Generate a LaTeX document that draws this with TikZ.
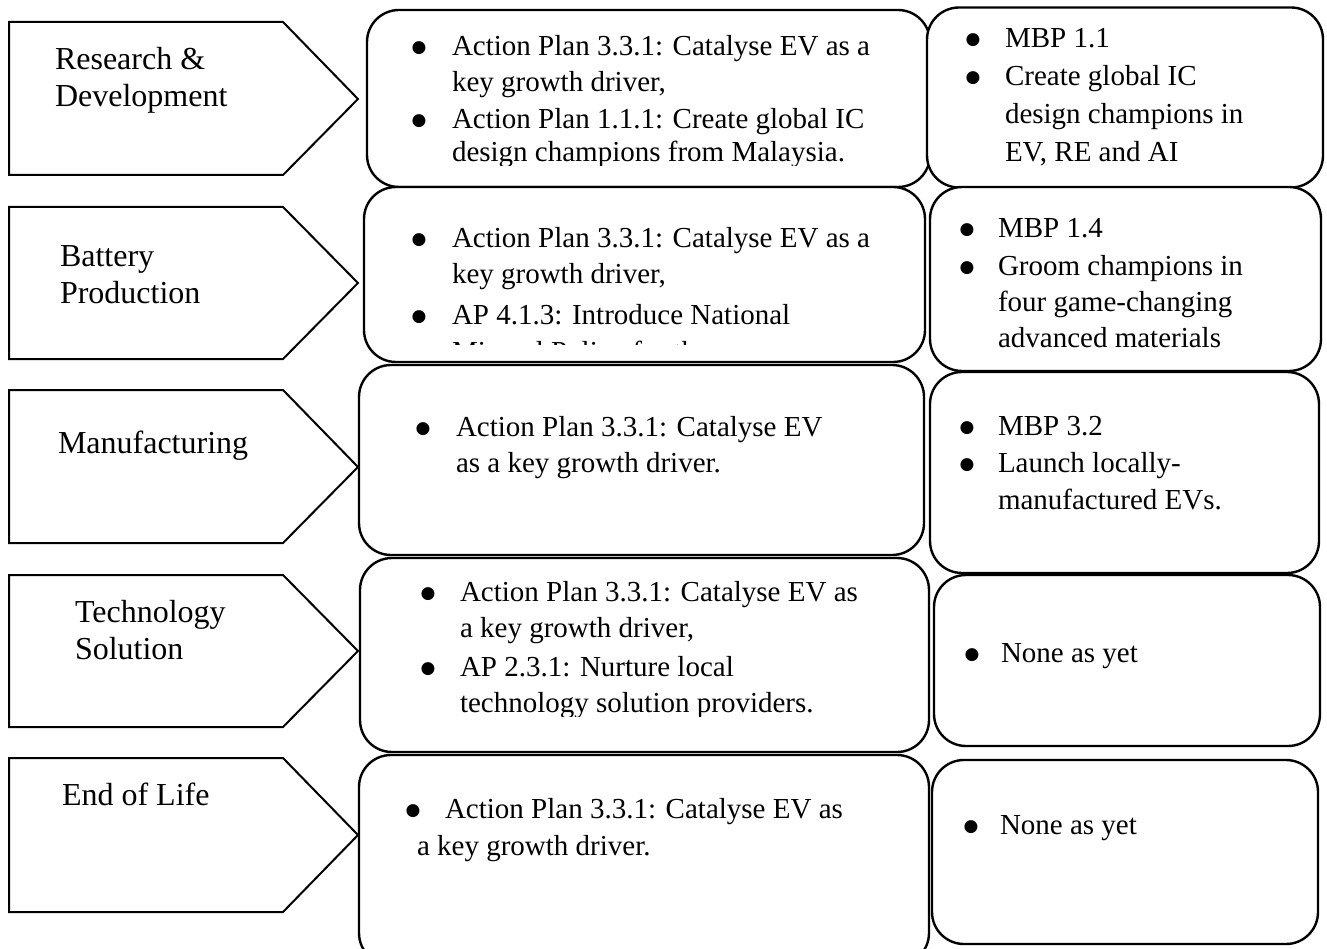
\documentclass[tikz,border=0pt]{standalone}
\usepackage{fontspec}
\setmainfont{Liberation Serif}
\newfontfamily\bulfont{DejaVu Sans}
\begin{document}
\begin{tikzpicture}[x=1pt,y=-1pt,
  arrowshape/.style={draw=black, line width=2pt, line join=miter, fill=white},
  box/.style={draw=black, line width=2.4pt, rounded corners=32pt, fill=white, inner sep=0pt, outer sep=0pt},
  txt/.style={anchor=base west, inner sep=0pt, outer sep=0pt, font=\fontsize{29pt}{35pt}\selectfont},
  lbl/.style={anchor=base west, inner sep=0pt, outer sep=0pt, font=\fontsize{32pt}{38pt}\selectfont},
  bul/.style={anchor=base, inner sep=0pt, outer sep=0pt, yshift=3pt, font=\bulfont\fontsize{17pt}{20pt}\selectfont}]
\useasboundingbox (0,0) rectangle (1327,949);
\fill[white] (0,0) rectangle (1327,949);

% ---------- left arrow shapes ----------
\draw[arrowshape] (9,22) coordinate (a1) -- (283,22) -- (358,99) coordinate (t1) -- (283,175) -- (9,175) -- cycle;
\draw[arrowshape] (9,207) coordinate (a2) -- (283,207) -- (358,283) coordinate (t2) -- (283,359) -- (9,359) -- cycle;
\draw[arrowshape] (9,390) coordinate (a3) -- (283,390) -- (358,467) coordinate (t3) -- (283,543) -- (9,543) -- cycle;
\draw[arrowshape] (9,575) coordinate (a4) -- (283,575) -- (358,651) coordinate (t4) -- (283,727) -- (9,727) -- cycle;
\draw[arrowshape] (9,758) coordinate (a5) -- (283,758) -- (358,835) coordinate (t5) -- (283,912) -- (9,912) -- cycle;

\node[lbl] (l1a) at (55,70) {Research \&};
\node[lbl] (l1b) at (55,107) {Development};
\node[lbl] (l2a) at (60,267) {Battery};
\node[lbl] (l2b) at (60,304) {Production};
\node[lbl] (l3a) at (58,453) {Manufacturing};
\node[lbl] (l4a) at (75,622) {Technology};
\node[lbl] (l4b) at (75,659) {Solution};
\node[lbl] (l5a) at (62,805) {End of Life};

% ---------- middle boxes ----------
\node[box, minimum width=563pt, minimum height=177pt] (m1) at (648.5,98.5) {};
\node[box, minimum width=561pt, minimum height=175pt] (m2) at (644.5,274.5) {};
\node[box, minimum width=565pt, minimum height=190pt] (m3) at (641.5,460) {};
\node[box, minimum width=569pt, minimum height=194pt] (m4) at (644.5,655) {};
\node[box, minimum width=570pt, minimum height=210pt] (m5) at (644,860) {};

% ---------- right boxes ----------
\node[box, minimum width=396pt, minimum height=180pt] (r1) at (1125,97.5) {};
\node[box, minimum width=391pt, minimum height=184pt] (r2) at (1125.5,279) {};
\node[box, minimum width=389pt, minimum height=201pt] (r3) at (1124.5,472.5) {};
\node[box, minimum width=386pt, minimum height=171pt] (r4) at (1127,660.5) {};
\node[box, minimum width=386pt, minimum height=184pt] (r5) at (1125,852) {};

% ---------- middle texts ----------
\begin{scope}
\clip (370,12) rectangle (925,166);
\node[bul] (m1b1) at (419,56) {●};
\node[txt] (m1t1) at (452,56) {Action Plan 3.3.1: Catalyse EV as a};
\node[txt] (m1t2) at (452,92) {key growth driver,};
\node[bul] (m1b2) at (419,129) {●};
\node[txt] (m1t3) at (452,129) {Action Plan 1.1.1: Create global IC};
\node[txt] (m1t4) at (452,162) {design champions from Malaysia.};
\end{scope}

\begin{scope}
\clip (366,190) rectangle (920,344);
\node[bul] (m2b1) at (419,248) {●};
\node[txt] (m2t1) at (452,248) {Action Plan 3.3.1: Catalyse EV as a};
\node[txt] (m2t2) at (452,284) {key growth driver,};
\node[bul] (m2b2) at (419,325) {●};
\node[txt] (m2t3) at (452,325) {AP 4.1.3: Introduce National};
\node[txt] (m2t4) at (452,361) {Mineral Policy for the};
\end{scope}

\node[bul] (m3b1) at (423,436) {●};
\node[txt] (m3t1) at (456,436) {Action Plan 3.3.1: Catalyse EV};
\node[txt] (m3t2) at (456,472) {as a key growth driver.};

\begin{scope}
\clip (362,560) rectangle (926,716);
\node[bul] (m4b1) at (428,601) {●};
\node[txt] (m4t1) at (460,601) {Action Plan 3.3.1: Catalyse EV as};
\node[txt] (m4t2) at (460,637) {a key growth driver,};
\node[bul] (m4b2) at (428,676) {●};
\node[txt] (m4t3) at (460,676) {AP 2.3.1: Nurture local};
\node[txt] (m4t4) at (460,712) {technology solution providers.};
\end{scope}

\node[bul] (m5b1) at (413,818) {●};
\node[txt] (m5t1) at (445,818) {Action Plan 3.3.1: Catalyse EV as};
\node[txt] (m5t2) at (417,855) {a key growth driver.};

% ---------- right texts ----------
\node[bul] (r1b1) at (973,48) {●};
\node[txt] (r1t1) at (1005,48) {MBP 1.1};
\node[bul] (r1b2) at (973,86) {●};
\node[txt] (r1t2) at (1005,86) {Create global IC};
\node[txt] (r1t3) at (1005,124) {design champions in};
\node[txt] (r1t4) at (1005,162) {EV, RE and AI};

\node[bul] (r2b1) at (967,238) {●};
\node[txt] (r2t1) at (998,238) {MBP 1.4};
\node[bul] (r2b2) at (967,276) {●};
\node[txt] (r2t2) at (998,276) {Groom champions in};
\node[txt] (r2t3) at (998,312) {four game-changing};
\node[txt] (r2t4) at (998,348) {advanced materials};

\node[bul] (r3b1) at (967,435) {●};
\node[txt] (r3t1) at (998,435) {MBP 3.2};
\node[bul] (r3b2) at (967,472) {●};
\node[txt] (r3t2) at (998,472) {Launch locally-};
\node[txt] (r3t3) at (998,509) {manufactured EVs.};

\node[bul] (r4b1) at (972,662) {●};
\node[txt] (r4t1) at (1001,662) {None as yet};

\node[bul] (r5b1) at (971,834) {●};
\node[txt] (r5t1) at (1000,834) {None as yet};
\end{tikzpicture}
\end{document}
